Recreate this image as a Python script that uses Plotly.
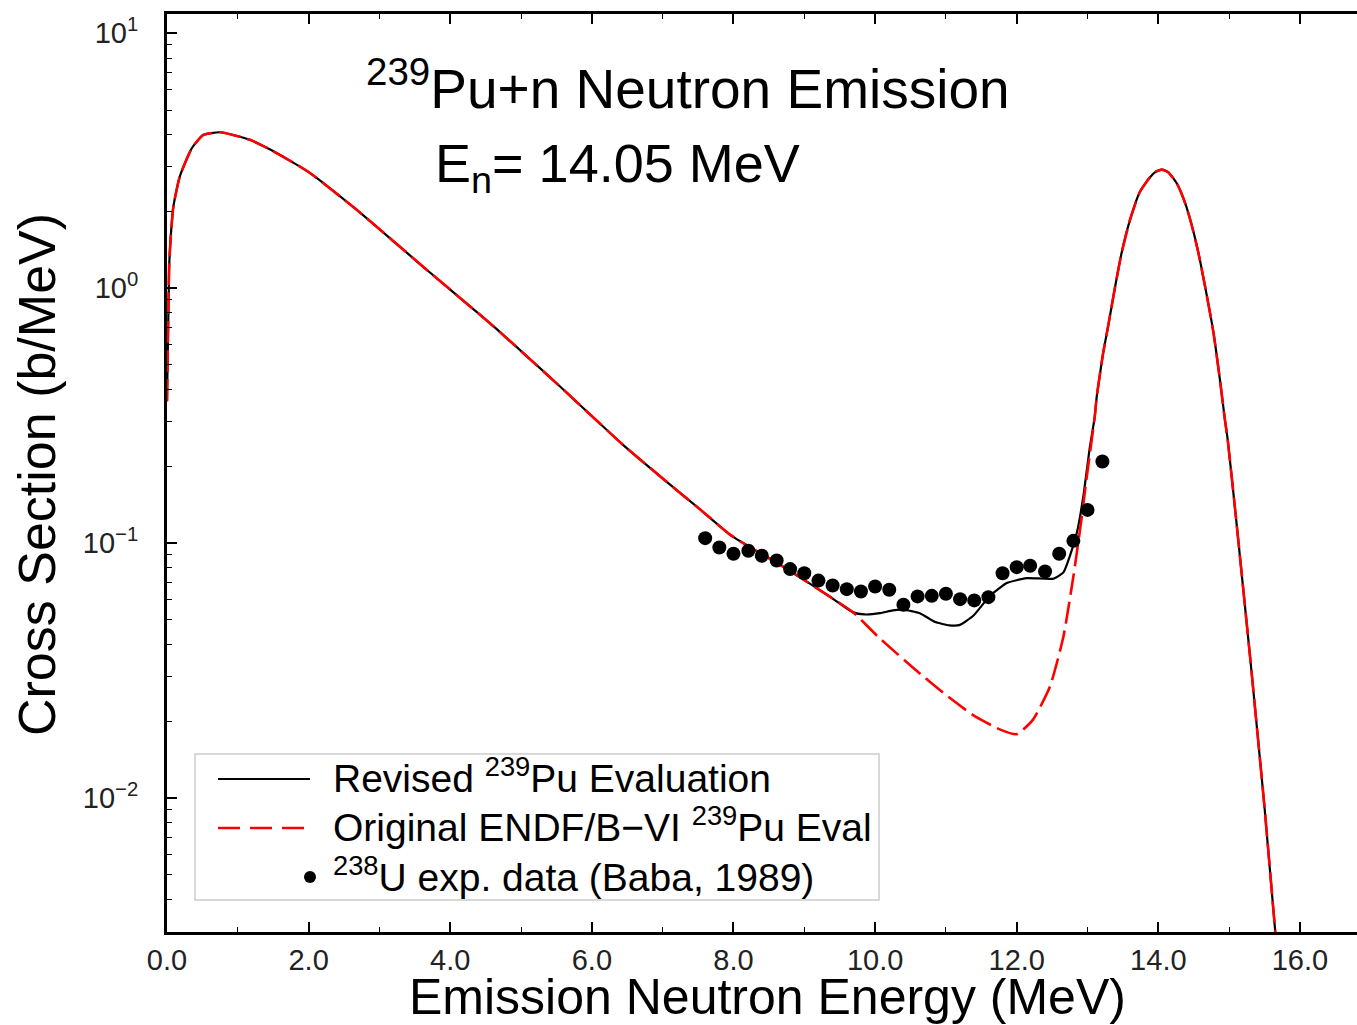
import plotly.graph_objects as go

# ---------------- data ----------------
# part where both evaluations coincide (low emission energies)
shared_low_E = [0.0, 0.03, 0.05, 0.09, 0.18, 0.35, 0.51, 0.75, 1.17, 1.43, 1.74, 2.02,
                2.68, 3.70, 4.56, 5.50, 6.44, 7.25, 7.53, 7.95, 8.30, 8.66, 9.36, 9.69]
shared_low_xs = [0.36, 1.2, 1.55, 2.09, 2.74, 3.54, 3.99, 4.09, 3.82, 3.53, 3.16, 2.83,
                 2.03, 1.16, 0.729, 0.424, 0.243, 0.157, 0.1355, 0.108, 0.094, 0.0822, 0.0617, 0.0535]

# revised 239Pu evaluation (middle region)
revised_mid_E = [9.85, 10.07, 10.25, 10.40, 10.63, 10.85, 11.05, 11.20, 11.39, 11.62,
                 11.86, 12.14, 12.52, 12.66, 12.75, 12.85, 12.94, 13.03]
revised_mid_xs = [0.0525, 0.0531, 0.0545, 0.0548, 0.0531, 0.049, 0.0476, 0.0478, 0.052, 0.062,
                  0.0697, 0.0729, 0.0726, 0.0768, 0.089, 0.110, 0.152, 0.235]

# original ENDF/B-VI evaluation (middle region)
original_mid_E = [10.07, 10.54, 11.00, 11.39, 11.76, 12.00, 12.23, 12.47, 12.66, 12.80, 12.90, 12.99]
original_mid_xs = [0.0422, 0.0324, 0.0254, 0.0211, 0.0186, 0.0178, 0.0203, 0.0274, 0.043,
                   0.074, 0.116, 0.1825]

# elastic/inelastic peak where both coincide again
shared_peak_E = [13.10, 13.13, 13.22, 13.29, 13.39, 13.48, 13.60, 13.74, 13.88, 13.96, 14.05,
                 14.14, 14.26, 14.36, 14.45, 14.56, 14.68, 14.78, 14.87, 14.94, 14.98, 15.10,
                 15.30, 15.50, 15.66]
shared_peak_xs = [0.31, 0.376, 0.556, 0.707, 1.015, 1.371, 1.853, 2.39, 2.72, 2.86, 2.92,
                  2.85, 2.58, 2.23, 1.86, 1.40, 0.95, 0.666, 0.437, 0.305, 0.254, 0.123,
                  0.0348, 0.00916, 0.0028]

# 238U experimental data (Baba, 1989)
exp_E = [7.60, 7.80, 8.00, 8.21, 8.40, 8.61, 8.80, 9.00, 9.20, 9.40, 9.60, 9.80, 10.00, 10.20,
         10.40, 10.60, 10.80, 11.00, 11.20, 11.40, 11.60, 11.80, 12.00, 12.19, 12.40, 12.60,
         12.80, 13.00, 13.21]
exp_xs = [0.1046, 0.0961, 0.0908, 0.0933, 0.0892, 0.0855, 0.0791, 0.0762, 0.0713, 0.0682,
          0.0660, 0.0646, 0.0676, 0.0656, 0.0573, 0.0618, 0.0621, 0.0633, 0.0603, 0.0596,
          0.0614, 0.0762, 0.0805, 0.0815, 0.0774, 0.0908, 0.1021, 0.135, 0.209]

x_tick_vals = [0, 2, 4, 6, 8, 10, 12, 14, 16]
x_tick_text = ["0.0", "2.0", "4.0", "6.0", "8.0", "10.0", "12.0", "14.0", "16.0"]
y_tick_vals = [0.01, 0.1, 1, 10]
y_tick_text = ["10<sup>\u22122</sup>", "10<sup>\u22121</sup>", "10<sup>0</sup>", "10<sup>1</sup>"]

revised_E = shared_low_E + revised_mid_E + shared_peak_E
revised_xs = shared_low_xs + revised_mid_xs + shared_peak_xs
original_E = shared_low_E + original_mid_E + shared_peak_E
original_xs = shared_low_xs + original_mid_xs + shared_peak_xs

FONT = "Liberation Sans, Arial, Helvetica, sans-serif"

# ---------------- figure ----------------
fig = go.Figure()
fig.add_trace(go.Scatter(x=revised_E, y=revised_xs, mode="lines",
                         line=dict(color="black", width=2.2, shape="spline", smoothing=0.5),
                         name="Revised 239Pu Evaluation", showlegend=False))
fig.add_trace(go.Scatter(x=original_E, y=original_xs, mode="lines",
                         line=dict(color="#ff0000", width=2.6, dash="22px,7px",
                                   shape="spline", smoothing=0.5),
                         name="Original ENDF/B-VI 239Pu Eval", showlegend=False))
fig.add_trace(go.Scatter(x=exp_E, y=exp_xs, mode="markers",
                         marker=dict(color="black", size=14),
                         name="238U exp. data (Baba, 1989)", showlegend=False))

L, T, W, H = 167, 14, 1357, 1025
B = 932
PW, PH = W - L, B - T


def px(x):
    return (x - L) / PW


def py(y):
    return (B - y) / PH


xmax = (W - L) / 70.81

fig.update_layout(
    width=W, height=H,
    margin=dict(l=L, r=0, t=T, b=H - B, pad=0),
    paper_bgcolor="white", plot_bgcolor="white",
    font=dict(family=FONT, color="#222"),
    xaxis=dict(range=[0, xmax], tickmode="array", tickvals=x_tick_vals, ticktext=x_tick_text,
               ticks="inside", ticklen=10, tickwidth=1.5, tickcolor="black",
               minor=dict(dtick=1, ticks="inside", ticklen=5, tickwidth=1.2, tickcolor="black",
                          showgrid=False),
               showline=True, linecolor="black", linewidth=3, mirror="ticks",
               showgrid=False, zeroline=False,
               tickfont=dict(size=29, color="#222", family=FONT)),
    yaxis=dict(type="log", range=[-2.5255, 1.0757], tickmode="array",
               tickvals=y_tick_vals, ticktext=y_tick_text,
               ticks="inside", ticklen=10, tickwidth=1.5, tickcolor="black",
               minor=dict(dtick="D1", ticks="inside", ticklen=5, tickwidth=1.2,
                          tickcolor="black", showgrid=False),
               showline=True, linecolor="black", linewidth=3, mirror=False,
               showgrid=False, zeroline=False, ticklabelstandoff=20,
               tickfont=dict(size=29, color="#222", family=FONT)),
)

ann = []
# title lines
ann.append(dict(x=px(364), y=py(85), xref="paper", yref="paper", xanchor="left", yanchor="middle",
                text="<sup>239</sup>Pu+n Neutron Emission", showarrow=False,
                font=dict(size=55, color="black", family=FONT)))
ann.append(dict(x=px(433), y=py(167), xref="paper", yref="paper", xanchor="left", yanchor="middle",
                text="E<sub>n</sub>= 14.05 MeV", showarrow=False,
                font=dict(size=54, color="black", family=FONT)))
# axis titles
ann.append(dict(x=px(767), y=py(997), xref="paper", yref="paper", xanchor="center", yanchor="middle",
                text="Emission Neutron Energy (MeV)", showarrow=False,
                font=dict(size=50, color="black", family=FONT)))
ann.append(dict(x=px(37), y=py(475), xref="paper", yref="paper", xanchor="center", yanchor="middle",
                text="Cross Section (b/MeV)", textangle=-90, showarrow=False,
                font=dict(size=52, color="black", family=FONT)))
# legend texts
leg_font = dict(size=39, color="black", family=FONT)
ann.append(dict(x=px(331), y=py(775), xref="paper", yref="paper", xanchor="left", yanchor="middle",
                text="Revised <sup>239</sup>Pu Evaluation", showarrow=False, font=leg_font))
ann.append(dict(x=px(331), y=py(824), xref="paper", yref="paper", xanchor="left", yanchor="middle",
                text="Original ENDF/B\u2212VI <sup>239</sup>Pu Eval", showarrow=False, font=leg_font))
ann.append(dict(x=px(331), y=py(874), xref="paper", yref="paper", xanchor="left", yanchor="middle",
                text="<sup>238</sup>U exp. data (Baba, 1989)", showarrow=False, font=leg_font))
fig.update_layout(annotations=ann)

shapes = []
shapes.append(dict(type="rect", xref="paper", yref="paper", x0=px(195), x1=px(879), y0=py(900), y1=py(754),
                   line=dict(color="#cccccc", width=1.5), fillcolor="white", layer="above"))
shapes.append(dict(type="line", xref="paper", yref="paper", x0=px(218), x1=px(310), y0=py(779), y1=py(779),
                   line=dict(color="black", width=2.2), layer="above"))
shapes.append(dict(type="line", xref="paper", yref="paper", x0=px(218), x1=px(310), y0=py(828), y1=py(828),
                   line=dict(color="#ff0000", width=2.6, dash="22px,10px"), layer="above"))
r = 6
shapes.append(dict(type="circle", xref="paper", yref="paper", x0=px(310 - r), x1=px(310 + r),
                   y0=py(877 + r), y1=py(877 - r), fillcolor="black", line=dict(color="black", width=0),
                   layer="above"))
fig.update_layout(shapes=shapes)

fig.write_html("out.html")
